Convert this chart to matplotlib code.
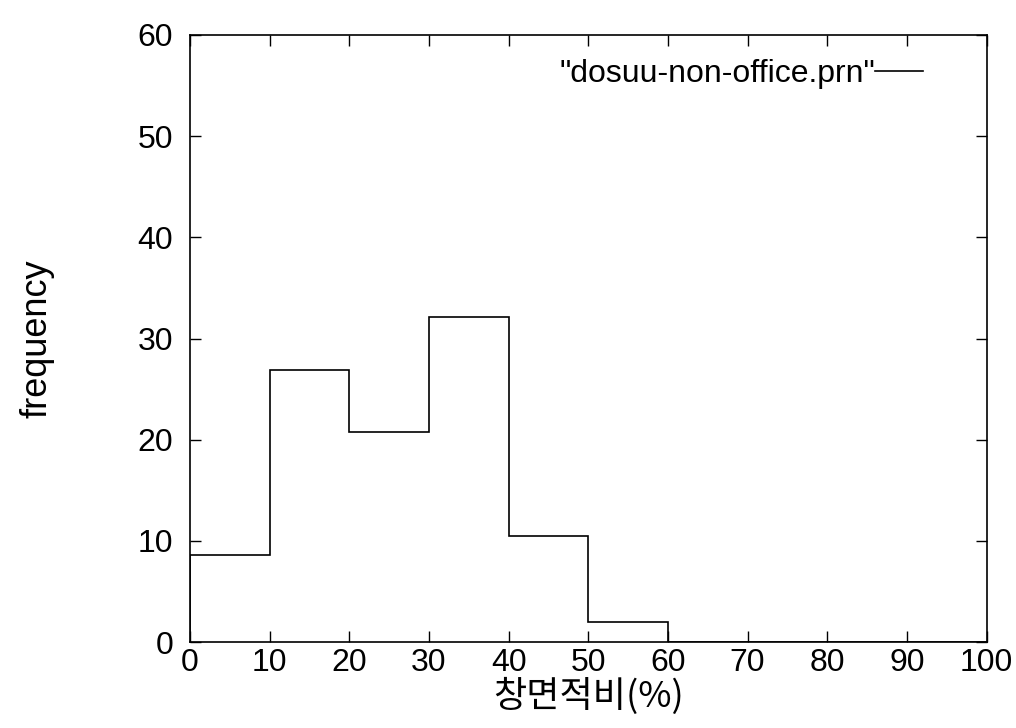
import numpy as np
import matplotlib.pyplot as plt
from matplotlib.lines import Line2D

# histogram data (bin edges in %, frequency per bin)
bin_edges = [0, 10, 20, 30, 40, 50, 60, 70, 80, 90, 100]
freq = [8.6, 26.9, 20.8, 32.1, 10.5, 2.0, 0, 0, 0, 0]
x_ticks = [0, 10, 20, 30, 40, 50, 60, 70, 80, 90, 100]
y_ticks = [0, 10, 20, 30, 40, 50, 60]
series_name = '"dosuu-non-office.prn"'

plt.rcParams['font.family'] = ['Liberation Sans', 'DejaVu Sans']

fig = plt.figure(figsize=(10.16, 7.28), dpi=100)
ax = fig.add_axes([0.187, 0.118, 0.784, 0.834])

ax.stairs(freq, bin_edges, baseline=0, fill=False, color="black", lw=1.2)

ax.set_xlim(0, 100)
ax.set_ylim(0, 60)
ax.set_xticks(x_ticks)
ax.set_yticks(y_ticks)
ax.tick_params(direction="in", length=8, width=1, top=True, right=True,
               labelsize=23)
ax.tick_params(axis="y", pad=12)
ax.tick_params(axis="x", pad=4)
for s in ax.spines.values():
    s.set_linewidth(1.2)

ax.set_xlabel("창면적비(%)", family=["Noto Sans CJK KR", "DejaVu Sans"],
              fontsize=26, labelpad=0)
ax.set_ylabel("frequency", fontsize=26, labelpad=60)

ax.legend(handles=[Line2D([], [], color="black", lw=1.2)], labels=[series_name],
          loc="upper right", frameon=False, markerfirst=False, fontsize=23,
          handlelength=1.5, handletextpad=0.0, borderaxespad=0.35,
          bbox_to_anchor=(0.95, 1.0))

fig.savefig("out.png", dpi=100)
